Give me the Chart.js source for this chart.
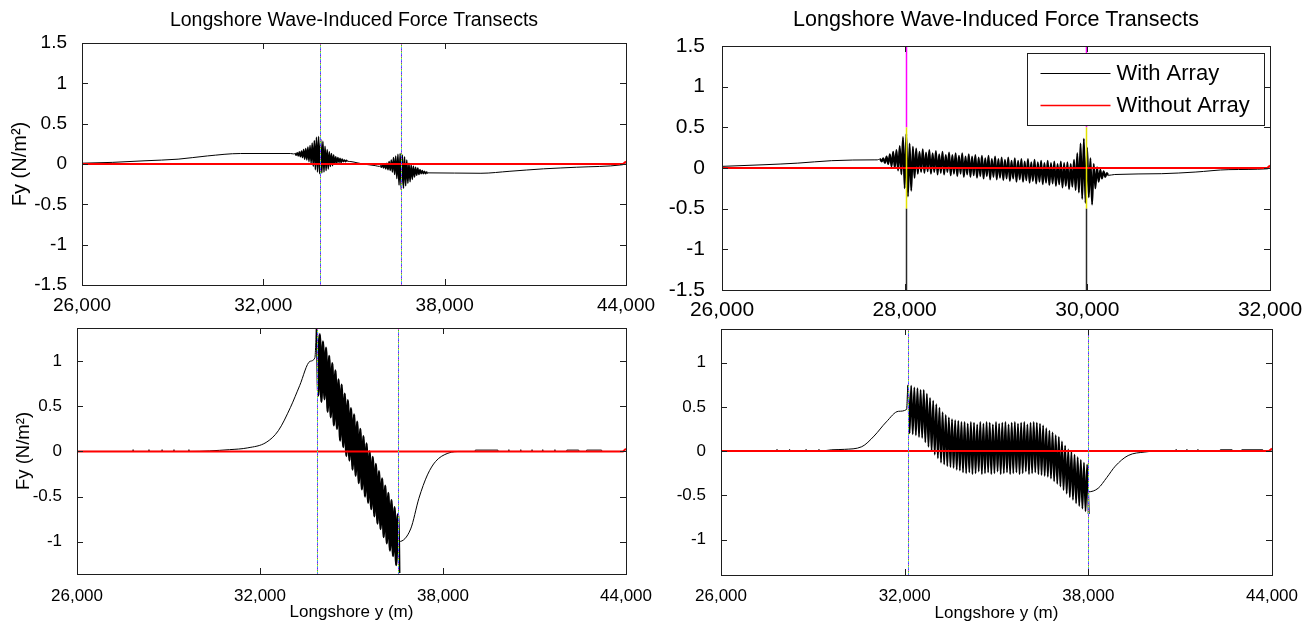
<!DOCTYPE html>
<html>
<head>
<meta charset="utf-8">
<title>Longshore Wave-Induced Force Transects</title>
<script src="https://cdn.jsdelivr.net/npm/chart.js@4/dist/chart.umd.min.js"></script>
<style>
  html, body { margin: 0; padding: 0; background: #fff; }
  #wrap { position: relative; width: 1313px; height: 624px; overflow: hidden; }
  #wrap canvas { position: absolute; left: 0; top: 0; }
</style>
</head>
<body>
<div id="wrap">
  <canvas id="tl" width="1313" height="624"></canvas>
  <canvas id="tr" width="1313" height="624"></canvas>
  <canvas id="bl" width="1313" height="624"></canvas>
  <canvas id="br" width="1313" height="624"></canvas>
</div>
<script>
/* ---------- axes ---------- */
var wideXTicks = [26000, 32000, 38000, 44000];
var wideXLabels = ['26,000', '32,000', '38,000', '44,000'];
var shortXTicks = [26000, 28000, 30000, 32000];
var shortXLabels = ['26,000', '28,000', '30,000', '32,000'];
var topYTicks = [1.5, 1, 0.5, 0, -0.5, -1, -1.5];
var topYLabels = ['1.5', '1', '0.5', '0', '-0.5', '-1', '-1.5'];
var lowYTicks = [1, 0.5, 0, -0.5, -1];
var lowYLabels = ['1', '0.5', '0', '-0.5', '-1'];

/* ---------- top-left panel ---------- */
var tlLeftX = [26000, 27000, 28085, 29180, 30150, 31250, 32900, 33000];
var tlLeftY = [0.01, 0.02, 0.04, 0.06, 0.10, 0.13, 0.13, 0.125];
var tlBurst1Span = [33050, 34750];
var tlBurst1Hi = [0.13, 0.14, 0.15, 0.16, 0.18, 0.19, 0.21, 0.23, 0.26, 0.29, 0.33, 0.34, 0.31,
                  0.28, 0.22, 0.18, 0.15, 0.13, 0.11, 0.09, 0.08, 0.07, 0.06, 0.05, 0.045];
var tlBurst1Lo = [0.11, 0.10, 0.09, 0.08, 0.06, 0.05, 0.03, 0.01, -0.03, -0.07, -0.10, -0.12, -0.11,
                  -0.10, -0.08, -0.06, -0.03, -0.02, 0.00, 0.01, 0.02, 0.02, 0.03, 0.03, 0.035];
var tlMidX = [34900, 35100, 35300, 35500, 35700, 35840];
var tlMidY = [0.03, 0.015, 0.0, -0.01, -0.02, -0.03];
var tlBurst2Span = [35870, 37403];
var tlBurst2Hi = [-0.02, -0.01, 0.00, 0.01, 0.03, 0.05, 0.08, 0.10, 0.12, 0.13, 0.11,
                  0.09, 0.05, 0.01, -0.01, -0.03, -0.04, -0.05, -0.07, -0.08, -0.09, -0.10];
var tlBurst2Lo = [-0.04, -0.05, -0.06, -0.07, -0.08, -0.10, -0.13, -0.18, -0.26, -0.32, -0.30,
                  -0.27, -0.24, -0.22, -0.19, -0.16, -0.14, -0.13, -0.12, -0.12, -0.12, -0.115];
var tlRightX = [37450, 39200, 40160, 41270, 42370, 43870, 44000];
var tlRightY = [-0.11, -0.115, -0.09, -0.06, -0.04, -0.01, 0];
var tlNoX = [26000, 43900, 44000];
var tlNoY = [0, 0, 0.03];
var tlMarkers = [33875, 36545];

/* ---------- top-right panel ---------- */
var trLeftX = [26000, 26460, 26830, 27200, 27665, 27700];
var trLeftY = [0.02, 0.04, 0.06, 0.09, 0.10, 0.10];
var trBurstSpan = [27730, 30214];
var trBurstHi = [0.11, 0.12, 0.14, 0.17, 0.20, 0.22, 0.27, 0.38, 0.42, 0.30,
                 0.26, 0.24, 0.20, 0.23, 0.19, 0.22, 0.18, 0.21, 0.17, 0.20,
                 0.16, 0.19, 0.16, 0.18, 0.15, 0.18, 0.14, 0.17, 0.14, 0.16,
                 0.13, 0.15, 0.12, 0.15, 0.11, 0.14, 0.11, 0.13, 0.10, 0.13,
                 0.09, 0.12, 0.09, 0.11, 0.08, 0.11, 0.07, 0.10, 0.07, 0.09,
                 0.06, 0.09, 0.06, 0.08, 0.05, 0.08, 0.06, 0.07, 0.05, 0.10,
                 0.18, 0.30, 0.36, 0.25, 0.12, 0.05, 0.01, -0.02, -0.04, -0.06];
var trBurstLo = [0.08, 0.06, 0.05, 0.02, 0.00, -0.03, -0.08, -0.25, -0.35, -0.28,
                 -0.12, -0.07, -0.05, -0.06, -0.04, -0.07, -0.05, -0.08, -0.06, -0.08,
                 -0.05, -0.09, -0.07, -0.10, -0.07, -0.11, -0.08, -0.11, -0.09, -0.12,
                 -0.10, -0.13, -0.10, -0.14, -0.11, -0.14, -0.12, -0.15, -0.13, -0.16,
                 -0.13, -0.17, -0.14, -0.17, -0.15, -0.18, -0.16, -0.19, -0.17, -0.20,
                 -0.18, -0.21, -0.19, -0.22, -0.20, -0.24, -0.22, -0.26, -0.23, -0.27,
                 -0.30, -0.38, -0.43, -0.36, -0.45, -0.25, -0.17, -0.13, -0.11, -0.09];
var trRightX = [30300, 30810, 31180, 31550, 31970, 32000];
var trRightY = [-0.08, -0.07, -0.05, -0.02, -0.01, 0];
var trNoX = [26000, 31970, 32000];
var trNoY = [0, 0, 0.03];
var trMarkers = [28020, 29980];
var trMarkerBands = [1.5, 0.5, -0.5, -1.5];

/* ---------- bottom-left panel ---------- */
var blLeftX = [26000, 27820, 27840, 27860, 28340, 28360, 28380, 28770, 28790, 28810, 29160, 29180,
               29200, 29650, 29670, 29690, 31000, 31600, 32200, 32600, 33000, 33300, 33640, 33800];
var blLeftY = [0, 0, 0.02, 0, 0, 0.02, 0, 0, 0.02, 0, 0, 0.02,
               0, 0, 0.02, 0, 0.02, 0.04, 0.10, 0.23, 0.49, 0.73, 1.00, 1.04];
var blBurstSpan = [33860, 36515];
var blBurstHi = [1.37, 1.30, 1.22, 1.15, 1.06, 0.98, 0.90, 0.80, 0.74, 0.64, 0.57, 0.48, 0.41, 0.33,
                 0.25, 0.17, 0.09, 0.00, -0.06, -0.14, -0.22, -0.30, -0.38, -0.46, -0.54, -0.62, -0.70];
var blBurstLo = [0.62, 0.55, 0.58, 0.44, 0.38, 0.29, 0.25, 0.12, 0.05, -0.05, -0.10, -0.20, -0.27, -0.35,
                 -0.42, -0.50, -0.57, -0.64, -0.72, -0.80, -0.86, -0.95, -1.02, -1.10, -1.16, -1.26, -1.35];
var blRightX = [36560, 36940, 37210, 37490, 37760, 38160, 38600, 39050, 39060, 39800, 39810, 40140,
                40160, 40180, 40530, 40550, 40570, 40900, 40920, 40940, 41250, 41270, 41290, 41650,
                41670, 41690, 42050, 42060, 42450, 42460, 42700, 42710, 43200, 43210, 44000];
var blRightY = [-1.0, -0.86, -0.52, -0.26, -0.11, -0.02, 0, 0, 0.015, 0.015, 0, 0,
                0.02, 0, 0, 0.02, 0, 0, 0.02, 0, 0, 0.02, 0, 0,
                0.02, 0, 0, 0.015, 0.015, 0, 0, 0.015, 0.015, 0, 0];
var blNoX = [26000, 43900, 44000];
var blNoY = [0, 0, 0.03];
var blMarkers = [33860, 36515];

/* ---------- bottom-right panel ---------- */
var brLeftX = [26000, 27810, 27830, 27850, 28220, 28240, 28260, 28760, 28780, 28800,
               29180, 29200, 29220, 29620, 30030, 30600, 31000, 31400, 31800, 32060];
var brLeftY = [0, 0, 0.02, 0, 0, 0.02, 0, 0, 0.02, 0,
               0, 0.02, 0, 0.015, 0.02, 0.05, 0.17, 0.33, 0.45, 0.47];
var brBurstSpan = [32110, 37960];
var brBurstHi = [0.75, 0.74, 0.72, 0.71, 0.69, 0.69, 0.65, 0.60, 0.57, 0.53, 0.49, 0.44, 0.41, 0.38, 0.36,
                 0.35, 0.34, 0.33, 0.33, 0.31, 0.33, 0.32, 0.30, 0.33, 0.31, 0.33, 0.32, 0.30, 0.33,
                 0.31, 0.32, 0.33, 0.30, 0.32, 0.33, 0.31, 0.32, 0.33, 0.30, 0.32, 0.33, 0.32, 0.31,
                 0.29, 0.26, 0.23, 0.21, 0.18, 0.16, 0.11, 0.06, 0.02, -0.01, -0.04, -0.07, -0.10, -0.13, -0.15];
var brBurstLo = [0.20, 0.19, 0.18, 0.16, 0.15, 0.10, 0.05, 0.00, -0.04, -0.08, -0.13, -0.15, -0.17, -0.18, -0.19,
                 -0.21, -0.22, -0.24, -0.25, -0.24, -0.26, -0.25, -0.23, -0.26, -0.25, -0.24, -0.26, -0.25, -0.23,
                 -0.26, -0.25, -0.24, -0.26, -0.25, -0.24, -0.26, -0.25, -0.23, -0.26, -0.25, -0.24, -0.26, -0.27,
                 -0.28, -0.29, -0.31, -0.34, -0.37, -0.40, -0.44, -0.48, -0.52, -0.55, -0.59, -0.62, -0.65, -0.68, -0.71];
var brRightX = [38000, 38320, 38600, 38880, 39300, 39850, 40200, 40850, 40870, 40890, 41200, 41220, 41240,
                41560, 41580, 41600, 41900, 42300, 42310, 42700, 42710, 43000, 43010, 43700, 43710, 44000];
var brRightY = [-0.46, -0.42, -0.30, -0.17, -0.05, -0.01, 0, 0, 0.02, 0, 0, 0.02, 0,
                0, 0.02, 0, 0, 0, 0.015, 0.015, 0, 0, 0.015, 0.015, 0, 0];
var brNoX = [26000, 43900, 44000];
var brNoY = [0, 0, 0.03];
var brMarkers = [32110, 37980];

/* ---------- drawing ---------- */
var FONT = "'Liberation Sans', Arial, Helvetica, sans-serif";
var INK = '#000000', RED = '#ff0000', BOX = '#1e1e1e';
var DOTS = ['#2f4dff', '#e040e0', '#2fbf4f', '#d8d820', '#20c8d8', '#8a4dff'];
var BANDS = ['#ff00ff', '#e2e200', '#2a2a2a'];

function pts(xs, ys) {
  return xs.map(function (x, i) { return { x: x, y: ys[i] }; });
}
// one high/low pair per oscillation, spread across the span
function burst(span, hi, lo) {
  var n = hi.length, step = (span[1] - span[0]) / (n - 1), out = [];
  for (var i = 0; i < n; i++) {
    var x = span[0] + step * i;
    out.push({ x: x, y: hi[i], b: 1 }, { x: x + step / 2, y: lo[i], b: 1 });
  }
  return out;
}

function panel(id, g) {
  var a = g.area;
  var deco = {
    id: 'deco' + id,
    afterDatasetsDraw: function (chart) {
      var ctx = chart.ctx, ca = chart.chartArea, xs = chart.scales.x, ys = chart.scales.y;
      ctx.save();
      g.markers.forEach(function (v) {
        var px = Math.round(xs.getPixelForValue(v)) + 0.5;
        if (g.bands) {
          ctx.lineWidth = 1.5;
          for (var k = 0; k < g.bands.length - 1; k++) {
            ctx.strokeStyle = BANDS[k];
            ctx.beginPath();
            ctx.moveTo(px, ys.getPixelForValue(g.bands[k]));
            ctx.lineTo(px, ys.getPixelForValue(g.bands[k + 1]));
            ctx.stroke();
          }
        } else {
          ctx.lineWidth = 1;
          DOTS.forEach(function (c, k) {
            ctx.setLineDash([1, DOTS.length - 1]);
            ctx.lineDashOffset = -k;
            ctx.strokeStyle = c;
            ctx.beginPath();
            ctx.moveTo(px, ca.top);
            ctx.lineTo(px, ca.bottom);
            ctx.stroke();
          });
          ctx.setLineDash([]);
        }
      });
      ctx.restore();
    },
    afterDraw: function (chart) {
      var ctx = chart.ctx, ca = chart.chartArea, xs = chart.scales.x, ys = chart.scales.y, t = 6;
      ctx.save();
      ctx.strokeStyle = BOX;
      ctx.lineWidth = 1;
      ctx.strokeRect(ca.left + 0.5, ca.top + 0.5, ca.right - ca.left, ca.bottom - ca.top);
      ctx.beginPath();
      xs.ticks.forEach(function (tk) {
        var px = Math.round(xs.getPixelForValue(tk.value)) + 0.5;
        ctx.moveTo(px, ca.bottom); ctx.lineTo(px, ca.bottom - t);
        ctx.moveTo(px, ca.top); ctx.lineTo(px, ca.top + t);
      });
      ys.ticks.forEach(function (tk) {
        var py = Math.round(ys.getPixelForValue(tk.value)) + 0.5;
        ctx.moveTo(ca.left, py); ctx.lineTo(ca.left + t, py);
        ctx.moveTo(ca.right, py); ctx.lineTo(ca.right - t, py);
      });
      ctx.stroke();

      if (g.legend) {
        var lw = 237, lh = 72, lx = ca.right - 243 + 0.5, ly = ca.top + 7 + 0.5;
        ctx.fillStyle = '#fff';
        ctx.fillRect(lx, ly, lw, lh);
        ctx.strokeStyle = BOX;
        ctx.strokeRect(lx, ly, lw, lh);
        ctx.font = '22px ' + FONT;
        ctx.textBaseline = 'middle';
        ctx.textAlign = 'left';
        chart.data.datasets.forEach(function (ds, i) {
          var ry = Math.round(ly + 19 + i * 32) + 0.5;
          ctx.strokeStyle = ds.borderColor;
          ctx.lineWidth = i === 0 ? 1 : 1.6;
          ctx.beginPath();
          ctx.moveTo(lx + 13, ry); ctx.lineTo(lx + 83, ry);
          ctx.stroke();
          ctx.fillStyle = '#000';
          ctx.fillText(ds.label, lx + 89, ry);
        });
      }
      ctx.restore();
    }
  };

  var yAxis = {
    min: g.yRange[0], max: g.yRange[1],
    grid: { display: false }, border: { display: false },
    ticks: {
      color: '#000', padding: g.yPad, font: { family: FONT, size: g.tickSize },
      callback: function (v, i) { return g.yLabels[i]; }
    },
    afterBuildTicks: function (s) { s.ticks = g.yTicks.map(function (v) { return { value: v }; }); },
    afterFit: function (s) { s.width = a.left; }
  };
  if (g.yTitle) {
    yAxis.title = {
      display: true, text: g.yTitle, color: '#000',
      font: { family: FONT, size: g.yTitleSize, lineHeight: 1.2 },
      padding: { top: g.yTitlePad, bottom: 0 }
    };
  }
  var xAxis = {
    type: 'linear', min: g.xTicks[0], max: g.xTicks[g.xTicks.length - 1],
    grid: { display: false }, border: { display: false },
    ticks: {
      color: '#000', padding: g.xPad, autoSkip: false, maxRotation: 0,
      font: { family: FONT, size: g.tickSize },
      callback: function (v, i) { return g.xLabels[i]; }
    },
    afterBuildTicks: function (s) { s.ticks = g.xTicks.map(function (v) { return { value: v }; }); },
    afterFit: function (s) { s.height = g.xHeight; }
  };
  if (g.xTitle) {
    xAxis.title = {
      display: true, text: g.xTitle, color: '#000',
      font: { family: FONT, size: 17, lineHeight: 1.2 },
      padding: { top: 0, bottom: g.xTitlePad }
    };
  }

  var title = { display: false };
  if (g.title) {
    title = {
      display: true, text: g.title, fullSize: false, color: '#000',
      font: { family: FONT, size: g.titleSize, weight: 'normal', lineHeight: 1.2 },
      padding: { top: g.titlePad, bottom: a.top - g.titlePad - g.titleSize * 1.2 }
    };
  }

  var withData = g.withArray;
  return new Chart(document.getElementById(id), {
    type: 'line',
    data: {
      datasets: [
        {
          label: 'With Array', data: withData, borderColor: INK, borderWidth: 1, order: 1,
          cubicInterpolationMode: 'monotone',
          segment: {
            // the dense oscillations read heavier than the smooth stretches
            borderWidth: function (c) {
              return withData[c.p0DataIndex].b && withData[c.p1DataIndex].b ? g.burstWidth : 1;
            }
          }
        },
        { label: 'Without Array', data: g.without, borderColor: RED, borderWidth: 2, order: 0 }
      ]
    },
    options: {
      responsive: false, animation: false, events: [],
      elements: {
        point: { radius: 0 },
        line: { tension: 0, borderJoinStyle: 'round', fill: false }
      },
      layout: {
        padding: {
          left: 0, top: g.title ? 0 : a.top,
          right: 1313 - a.right, bottom: 624 - a.bottom - g.xHeight
        }
      },
      plugins: { legend: { display: false }, tooltip: { enabled: false }, title: title },
      scales: { x: xAxis, y: yAxis }
    },
    plugins: [deco]
  });
}

function draw() {
  Chart.defaults.font.family = FONT;
  Chart.defaults.color = '#000';

  panel('tl', {
    area: { left: 82, top: 43, right: 626, bottom: 285 },
    title: 'Longshore Wave-Induced Force Transects', titleSize: 19.5, titlePad: 8.6,
    yTitle: 'Fy (N/m\u00B2)', yTitleSize: 20, yTitlePad: 8.5,
    tickSize: 19, xPad: 1, yPad: 7, xHeight: 40, burstWidth: 1.6,
    xTicks: wideXTicks, xLabels: wideXLabels, yTicks: topYTicks, yLabels: topYLabels, yRange: [-1.5, 1.5],
    withArray: pts(tlLeftX, tlLeftY).concat(burst(tlBurst1Span, tlBurst1Hi, tlBurst1Lo),
      pts(tlMidX, tlMidY), burst(tlBurst2Span, tlBurst2Hi, tlBurst2Lo), pts(tlRightX, tlRightY)),
    without: pts(tlNoX, tlNoY),
    markers: tlMarkers
  });

  panel('tr', {
    area: { left: 722, top: 46, right: 1270, bottom: 290 },
    title: 'Longshore Wave-Induced Force Transects', titleSize: 21.5, titlePad: 7.6,
    tickSize: 21, xPad: 0, yPad: 9, xHeight: 40, burstWidth: 2,
    xTicks: shortXTicks, xLabels: shortXLabels, yTicks: topYTicks, yLabels: topYLabels, yRange: [-1.5, 1.5],
    withArray: pts(trLeftX, trLeftY).concat(burst(trBurstSpan, trBurstHi, trBurstLo), pts(trRightX, trRightY)),
    without: pts(trNoX, trNoY),
    markers: trMarkers, bands: trMarkerBands, legend: true
  });

  panel('bl', {
    area: { left: 77, top: 328, right: 626, bottom: 574 },
    yTitle: 'Fy (N/m\u00B2)', yTitleSize: 18.5, yTitlePad: 12.6,
    xTitle: 'Longshore y (m)', xTitlePad: 1,
    tickSize: 17, xPad: 4, yPad: 7, xHeight: 50, burstWidth: 2.4,
    xTicks: wideXTicks, xLabels: wideXLabels, yTicks: lowYTicks, yLabels: lowYLabels, yRange: [-1.36, 1.37],
    withArray: pts(blLeftX, blLeftY).concat(burst(blBurstSpan, blBurstHi, blBurstLo), pts(blRightX, blRightY)),
    without: pts(blNoX, blNoY),
    markers: blMarkers
  });

  panel('br', {
    area: { left: 721, top: 329, right: 1272, bottom: 575 },
    xTitle: 'Longshore y (m)', xTitlePad: 0,
    tickSize: 17, xPad: 3, yPad: 7, xHeight: 49, burstWidth: 1.9,
    xTicks: wideXTicks, xLabels: wideXLabels, yTicks: lowYTicks, yLabels: lowYLabels, yRange: [-1.4, 1.38],
    withArray: pts(brLeftX, brLeftY).concat(burst(brBurstSpan, brBurstHi, brBurstLo), pts(brRightX, brRightY)),
    without: pts(brNoX, brNoY),
    markers: brMarkers
  });
}

if (document.readyState === 'loading') document.addEventListener('DOMContentLoaded', draw);
else draw();
</script>
</body>
</html>
